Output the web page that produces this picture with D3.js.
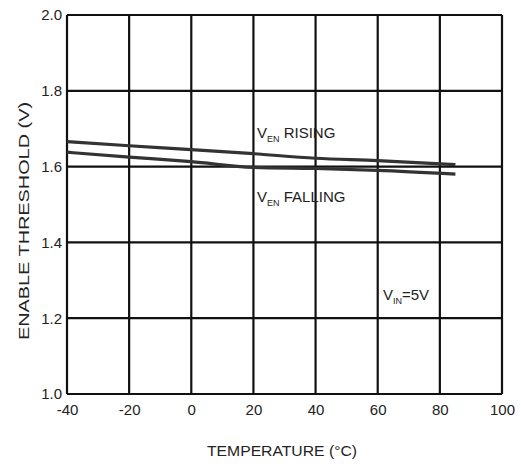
<!DOCTYPE html>
<html><head><meta charset="utf-8">
<script src="https://cdn.jsdelivr.net/npm/d3@7"></script>
<style>body{margin:0;background:#fff;} svg{display:block;}</style>
</head><body>
<svg id="c" width="521" height="466"></svg>
<script>
const temps = [-40, -20, 0, 20, 40, 60, 85];
const rising = [1.666, 1.655, 1.645, 1.634, 1.622, 1.616, 1.605];
const falling = [1.638, 1.625, 1.613, 1.598, 1.595, 1.590, 1.580];
const xTicks = [-40, -20, 0, 20, 40, 60, 80, 100];
const yTicks = [1.0, 1.2, 1.4, 1.6, 1.8, 2.0];

const svg = d3.select("#c");
const x = d3.scaleLinear().domain([-40, 100]).range([67, 502]);
const y = d3.scaleLinear().domain([1.0, 2.0]).range([394, 15]);
const font = "'Liberation Sans', Arial, sans-serif";

// grid
const g = svg.append("g");
g.selectAll(".vx").data(xTicks).join("line")
  .attr("x1", d => x(d)).attr("x2", d => x(d))
  .attr("y1", y(1.0)).attr("y2", y(2.0))
  .attr("stroke", "#111").attr("stroke-width", 2.2);
g.selectAll(".hy").data(yTicks).join("line")
  .attr("y1", d => y(d)).attr("y2", d => y(d))
  .attr("x1", x(-40)).attr("x2", x(100))
  .attr("stroke", "#111").attr("stroke-width", 2.2);

// axes labels via d3 axes (lines hidden)
const xAxis = svg.append("g").attr("transform", `translate(0,${y(1.0)})`)
  .call(d3.axisBottom(x).tickValues(xTicks).tickSize(0).tickPadding(10).tickFormat(d => String(d)));
const yAxis = svg.append("g").attr("transform", `translate(${x(-40)},0)`)
  .call(d3.axisLeft(y).tickValues(yTicks).tickSize(0).tickPadding(5).tickFormat(d3.format(".1f")));
[xAxis, yAxis].forEach(a => {
  a.select(".domain").remove();
  a.selectAll("text").attr("font-family", font).attr("font-size", 15).attr("fill", "#222");
});

// curves
const line = d3.line().x((d, i) => x(temps[i])).y(d => y(d)).curve(d3.curveMonotoneX);
[rising, falling].forEach(s => {
  svg.append("path").datum(s).attr("d", line)
    .attr("fill", "none").attr("stroke", "#333").attr("stroke-width", 3.2);
});

// annotations
function vlabel(xp, yp, main, sub, rest, len) {
  const t = svg.append("text").attr("x", xp).attr("y", yp)
    .attr("font-family", font).attr("font-size", 15).attr("fill", "#222");
  t.append("tspan").text(main);
  t.append("tspan").attr("font-size", 9).attr("dy", 4).text(sub);
  t.append("tspan").attr("dy", -4).text(rest);
}
vlabel(257, 138, "V", "EN", " RISING");
vlabel(257, 202, "V", "EN", " FALLING");
vlabel(383, 300, "V", "IN", "=5V");

// axis titles
svg.append("text").attr("x", 207).attr("y", 456)
  .attr("font-family", font).attr("font-size", 14).attr("fill", "#222")
  .attr("textLength", 150).attr("lengthAdjust", "spacingAndGlyphs")
  .text("TEMPERATURE (°C)");
svg.append("text").attr("transform", "translate(29,340) rotate(-90)")
  .attr("font-family", font).attr("font-size", 15).attr("fill", "#222")
  .attr("textLength", 238).attr("lengthAdjust", "spacingAndGlyphs")
  .text("ENABLE THRESHOLD (V)");
</script>
</body></html>
